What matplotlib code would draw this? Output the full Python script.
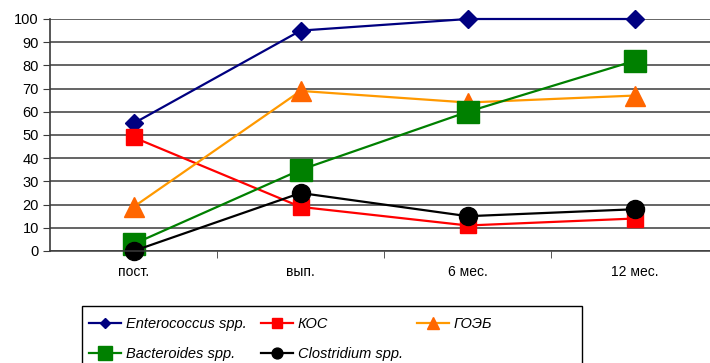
import matplotlib.pyplot as plt
from matplotlib.patches import Rectangle
from matplotlib.ticker import FixedLocator

plt.rcParams['font.family'] = ['Liberation Sans', 'DejaVu Sans']

# Timepoints and percentage of samples per group
periods = ['пост.', 'вып.', '6 мес.', '12 мес.']
enterococcus = [55, 95, 100, 100]
kos = [49, 19, 11, 14]
goeb = [19, 69, 64, 67]
bacteroides = [3, 35, 60, 82]
clostridium = [0, 25, 15, 18]

fig = plt.figure(figsize=(7.1, 3.63), dpi=100)
ax = fig.add_axes([50 / 710, 1 - 251 / 363, 1 - 50 / 710, 232 / 363])

x = range(len(periods))
lw = 1.6
common = dict(lw=lw, clip_on=False)
h_ent, = ax.plot(x, enterococcus, color='#000080', marker='D', ms=9,
                 label='Enterococcus spp.', **common)
h_kos, = ax.plot(x, kos, color='#FF0000', marker='s', ms=12,
                 label='КОС', **common)
h_goeb, = ax.plot(x, goeb, color='#FF9900', marker='^', ms=14,
                  markerfacecolor='#FF6600', markeredgecolor='#FF6600',
                  label='ГОЭБ', **common)
h_bac, = ax.plot(x, bacteroides, color='#008000', marker='s', ms=16,
                 label='Bacteroides spp.', **common)
h_clo, = ax.plot(x, clostridium, color='#000000', marker='o', ms=13,
                 label='Clostridium spp.', **common)

ax.set_ylim(0, 100)
ax.set_xlim(-0.5, 3.45)
ax.set_yticks(range(0, 101, 10))
ax.yaxis.grid(True, color='#3a3a3a', lw=1.1)
ax.set_axisbelow(True)

ax.set_xticks(list(x))
ax.set_xticklabels(periods)
ax.xaxis.set_minor_locator(FixedLocator([0.5, 1.5, 2.5]))
ax.tick_params(axis='x', which='major', length=0, pad=10, labelsize=10)
ax.tick_params(axis='x', which='minor', length=5, color='#3a3a3a', direction='out')
ax.tick_params(axis='y', length=5, color='#3a3a3a', labelsize=10.5, pad=3)

for side in ['top', 'right']:
    ax.spines[side].set_visible(False)
ax.spines['left'].set_color('#3a3a3a')
ax.spines['bottom'].set_color('#3a3a3a')
ax.spines['left'].set_linewidth(1.2)
ax.spines['bottom'].set_linewidth(1.1)

# legend box drawn separately so it can be wider than its entries
leg_top = 1 - 306 / 363
fig.add_artist(Rectangle((82 / 710, leg_top - 0.3), 500 / 710, 0.3,
                         transform=fig.transFigure, fill=False,
                         edgecolor='black', lw=1.0))

# column-major order so rows read Enterococcus/КОС/ГОЭБ, Bacteroides/Clostridium
handles = [h_ent, h_bac, h_kos, h_clo, h_goeb]
leg = fig.legend(handles=handles, labels=[h.get_label() for h in handles],
                 ncol=3, loc='upper left',
                 bbox_to_anchor=(77 / 710, leg_top + 1 / 363),
                 frameon=False, markerscale=0.6,
                 handlelength=2.2, handletextpad=0.3, borderaxespad=0,
                 columnspacing=1.0, labelspacing=1.05, borderpad=0.85,
                 prop={'style': 'italic', 'size': 10.5})

fig.savefig('out.png', dpi=100)
